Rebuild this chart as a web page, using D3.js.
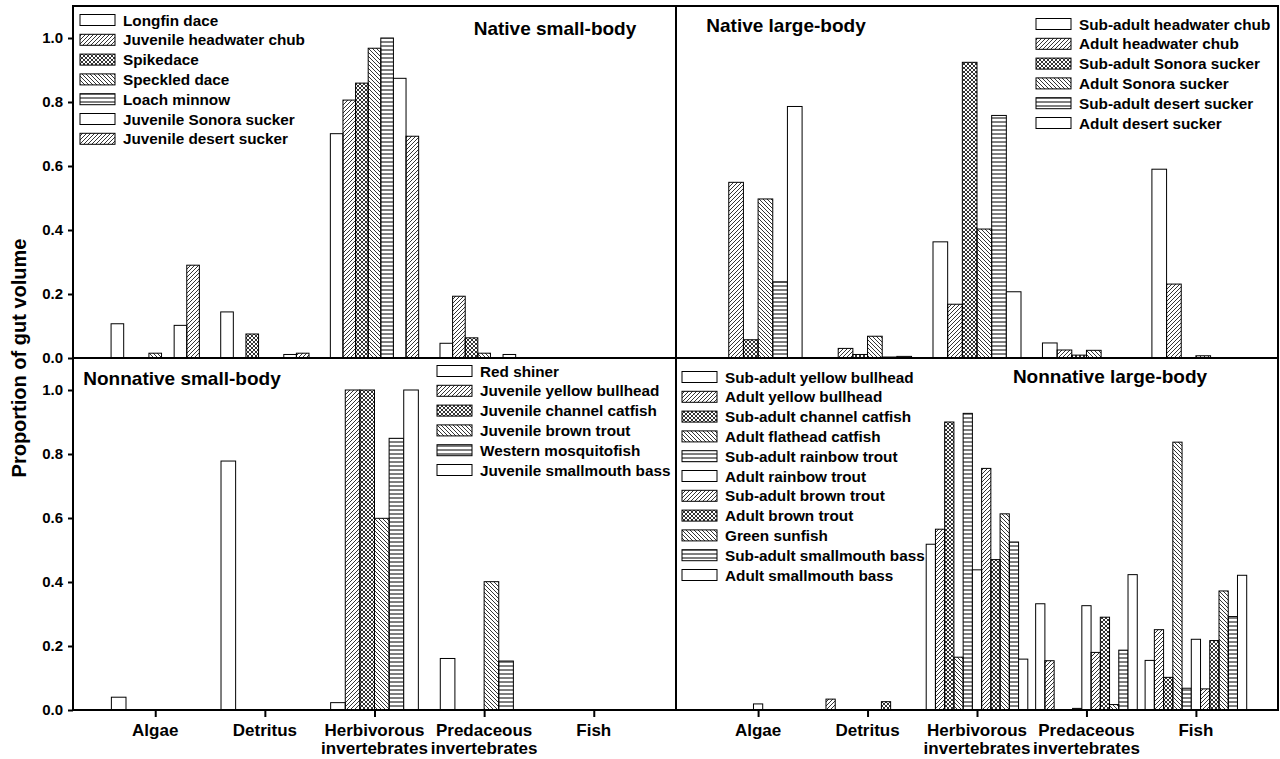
<!DOCTYPE html>
<html>
<head>
<meta charset="utf-8">
<script src="https://cdn.jsdelivr.net/npm/d3@7"></script>
<style>
  body { margin: 0; background: #fff; }
  svg { display: block; font-family: "Liberation Sans", Arial, sans-serif; font-weight: bold; }
</style>
</head>
<body>
<svg id="chart"></svg>
<script>
// Food categories along the x axis
const categories = ["Algae", "Detritus", "Herbivorous invertebrates", "Predaceous invertebrates", "Fish"];
const categoryLines = [["Algae"], ["Detritus"], ["Herbivorous", "invertebrates"], ["Predaceous", "invertebrates"], ["Fish"]];
const yTicks = [0, 0.2, 0.4, 0.6, 0.8, 1.0];

// Native small-body fishes (values per category, in order above)
const nativeSmallSpecies = ["Longfin dace", "Juvenile headwater chub", "Spikedace", "Speckled dace",
  "Loach minnow", "Juvenile Sonora sucker", "Juvenile desert sucker"];
const nativeSmallValues = [
  [0.107, 0.144, 0.701, 0.046, 0],
  [0, 0, 0.806, 0.193, 0],
  [0, 0.075, 0.859, 0.063, 0],
  [0.015, 0, 0.968, 0.015, 0],
  [0, 0, 1.0, 0, 0],
  [0.102, 0.011, 0.874, 0.011, 0],
  [0.29, 0.015, 0.693, 0, 0]
];

// Native large-body fishes
const nativeLargeSpecies = ["Sub-adult headwater chub", "Adult headwater chub", "Sub-adult Sonora sucker",
  "Adult Sonora sucker", "Sub-adult desert sucker", "Adult desert sucker"];
const nativeLargeValues = [
  [0, 0, 0.363, 0.047, 0.59],
  [0.549, 0.03, 0.168, 0.025, 0.231],
  [0.057, 0.011, 0.924, 0.009, 0],
  [0.497, 0.068, 0.403, 0.024, 0.007],
  [0.238, 0.003, 0.758, 0, 0],
  [0.786, 0.005, 0.207, 0, 0]
];

// Nonnative small-body fishes
const nonnativeSmallSpecies = ["Red shiner", "Juvenile yellow bullhead", "Juvenile channel catfish",
  "Juvenile brown trout", "Western mosquitofish", "Juvenile smallmouth bass"];
const nonnativeSmallValues = [
  [0.04, 0.778, 0.023, 0.161, 0],
  [0, 0, 1.0, 0, 0],
  [0, 0, 1.0, 0, 0],
  [0, 0, 0.599, 0.401, 0],
  [0, 0, 0.849, 0.153, 0],
  [0, 0, 1.0, 0, 0]
];

// Nonnative large-body fishes
const nonnativeLargeSpecies = ["Sub-adult yellow bullhead", "Adult yellow bullhead", "Sub-adult channel catfish",
  "Adult flathead catfish", "Sub-adult rainbow trout", "Adult rainbow trout", "Sub-adult brown trout",
  "Adult brown trout", "Green sunfish", "Sub-adult smallmouth bass", "Adult smallmouth bass"];
const nonnativeLargeValues = [
  [0, 0, 0.518, 0.332, 0.155],
  [0, 0.034, 0.565, 0.154, 0.251],
  [0, 0, 0.90, 0, 0.102],
  [0, 0, 0.165, 0, 0.837],
  [0, 0, 0.927, 0.005, 0.068],
  [0.019, 0, 0.438, 0.326, 0.221],
  [0, 0, 0.755, 0.180, 0.066],
  [0, 0.026, 0.470, 0.290, 0.217],
  [0, 0, 0.613, 0.017, 0.372],
  [0, 0, 0.525, 0.187, 0.292],
  [0, 0, 0.159, 0.423, 0.421]
];

const width = 1280;
const height = 759;

const svg = d3.select("#chart")
  .attr("width", width)
  .attr("height", height);

// Fill patterns, cycled in SigmaPlot order
const defs = svg.append("defs");
function linePattern(id, size, d, sw) {
  defs.append("pattern")
    .attr("id", id)
    .attr("patternUnits", "userSpaceOnUse")
    .attr("width", size).attr("height", size)
    .append("path")
    .attr("d", d)
    .attr("stroke", "#000")
    .attr("stroke-width", sw)
    .attr("fill", "none");
}
linePattern("fwd", 4, "M-1,1 l2,-2 M0,4 l4,-4 M3,5 l2,-2", 0.8);
linePattern("back", 4, "M-1,3 l2,2 M0,0 l4,4 M3,-1 l2,2", 0.8);
linePattern("cross", 4, "M0,0 l4,4 M4,0 l-4,4", 0.8);
linePattern("horiz", 4, "M0,2 h4", 1);

const fills = ["#fff", "url(#fwd)", "url(#cross)", "url(#back)", "url(#horiz)"];

const panels = [
  { title: "Native small-body", species: nativeSmallSpecies, values: nativeSmallValues,
    x0: 73, x1: 676, top: 6, base: 358, groupPx: 88.3,
    legendX: 80, legendTextX: 123, legendY: 20, titleX: 555, titleY: 28, yAxis: true, xAxis: false },
  { title: "Native large-body", species: nativeLargeSpecies, values: nativeLargeValues,
    x0: 676, x1: 1278, top: 6, base: 358, groupPx: 88,
    legendX: 1036, legendTextX: 1079, legendY: 24, titleX: 786, titleY: 25, yAxis: false, xAxis: false },
  { title: "Nonnative small-body", species: nonnativeSmallSpecies, values: nonnativeSmallValues,
    x0: 73, x1: 676, top: 358, base: 710, groupPx: 87.7,
    legendX: 437, legendTextX: 480, legendY: 371, titleX: 182, titleY: 378, yAxis: true, xAxis: true },
  { title: "Nonnative large-body", species: nonnativeLargeSpecies, values: nonnativeLargeValues,
    x0: 676, x1: 1278, top: 358, base: 710, groupPx: 101.6,
    legendX: 682, legendTextX: 725, legendY: 377, titleX: 1110, titleY: 376, yAxis: false, xAxis: true }
];

panels.forEach(p => {
  const x = d3.scaleLinear().domain([0.25, 5.75]).range([p.x0, p.x1]);
  const y = d3.scaleLinear().domain([0, 1.1]).range([p.base, p.top]);
  const sub = d3.scaleBand().domain(p.species).range([-p.groupPx / 2, p.groupPx / 2]);

  const g = svg.append("g");

  // bars
  p.species.forEach((sp, si) => {
    g.selectAll(null)
      .data(p.values[si].map((v, ci) => ({ v, ci })).filter(d => d.v > 0))
      .enter().append("rect")
      .attr("x", d => x(d.ci + 1) + sub(sp))
      .attr("y", d => y(d.v))
      .attr("width", sub.bandwidth())
      .attr("height", d => y(0) - y(d.v))
      .attr("fill", fills[si % 5])
      .attr("stroke", "#000")
      .attr("stroke-width", 1);
  });

  // y axis
  if (p.yAxis) {
    const ax = svg.append("g")
      .attr("transform", `translate(${p.x0},0)`)
      .call(d3.axisLeft(y).tickValues(yTicks).tickFormat(d3.format(".1f")).tickSize(5).tickPadding(5));
    ax.select(".domain").remove();
    ax.selectAll("line").attr("stroke-width", 2);
    ax.selectAll("text").attr("font-size", 15).attr("font-weight", "bold").attr("font-family", null);
  }

  // x axis with category labels
  if (p.xAxis) {
    const ax = svg.append("g")
      .attr("transform", `translate(0,${p.base})`)
      .call(d3.axisBottom(x).tickValues([1, 2, 3, 4, 5]).tickSize(7).tickFormat(""));
    ax.select(".domain").remove();
    ax.selectAll("line").attr("stroke-width", 2);
    categoryLines.forEach((lines, ci) => {
      const t = svg.append("text")
        .attr("x", x(ci + 1))
        .attr("y", 736)
        .attr("text-anchor", "middle")
        .attr("font-size", 17);
      lines.forEach((ln, li) => {
        t.append("tspan").attr("x", x(ci + 1)).attr("dy", li === 0 ? 0 : 18).text(ln);
      });
    });
  }

  // legend
  const lg = svg.append("g");
  p.species.forEach((sp, si) => {
    const ly = p.legendY + si * 19.8;
    lg.append("rect")
      .attr("x", p.legendX).attr("y", ly - 5.5)
      .attr("width", 35).attr("height", 11)
      .attr("fill", fills[si % 5])
      .attr("stroke", "#000").attr("stroke-width", 1);
    lg.append("text")
      .attr("x", p.legendTextX).attr("y", ly)
      .attr("dominant-baseline", "central")
      .attr("font-size", 15.3)
      .text(sp);
  });

  // panel title
  svg.append("text")
    .attr("x", p.titleX).attr("y", p.titleY)
    .attr("text-anchor", "middle")
    .attr("dominant-baseline", "central")
    .attr("font-size", 19)
    .text(p.title);
});

// frame and dividers
const frame = svg.append("g").attr("stroke", "#000").attr("stroke-width", 2);
frame.append("rect").attr("x", 73).attr("y", 6).attr("width", 1205).attr("height", 704).attr("fill", "none");
frame.append("line").attr("x1", 676).attr("x2", 676).attr("y1", 6).attr("y2", 710);
frame.append("line").attr("x1", 73).attr("x2", 1278).attr("y1", 358).attr("y2", 358);

// y axis title
svg.append("text")
  .attr("transform", "translate(19,358) rotate(-90)")
  .attr("text-anchor", "middle")
  .attr("dominant-baseline", "central")
  .attr("font-size", 20)
  .text("Proportion of gut volume");
</script>
</body>
</html>
